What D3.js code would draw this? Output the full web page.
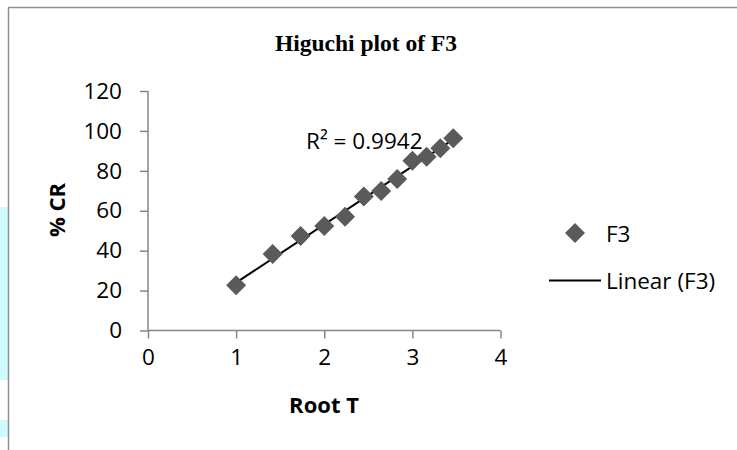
<!DOCTYPE html>
<html>
<head>
<meta charset="utf-8">
<script src="https://cdn.jsdelivr.net/npm/d3@7"></script>
<style>
  html, body { margin: 0; padding: 0; background: #fff; }
  svg { display: block; }
</style>
</head>
<body>
<svg id="chart" width="737" height="450"></svg>
<script>
// ---- data ----
const rootT = [1, 1.414, 1.732, 2, 2.236, 2.449, 2.646, 2.828, 3, 3.162, 3.317, 3.464];
const percentCR = [22.7, 38.3, 47.4, 52.4, 57.0, 67.1, 69.9, 75.9, 85.1, 87.1, 91.3, 96.3];
const xTicks = [0, 1, 2, 3, 4];
const yTicks = [0, 20, 40, 60, 80, 100, 120];
const seriesName = "F3";
const trendName = "Linear (F3)";
const rSquaredLabel = "R\u00B2 = 0.9942";
const titleText = "Higuchi plot of F3";
const xLabel = "Root T";
const yLabel = "% CR";

const svg = d3.select("#chart");

// decorative background (cyan page strip) and chart border
svg.append("rect").attr("x", 0).attr("y", 207).attr("width", 8).attr("height", 173).attr("fill", "#cefcfc");
svg.append("rect").attr("x", 0).attr("y", 420).attr("width", 8).attr("height", 17).attr("fill", "#cefcfc");
svg.append("line").attr("x1", 8.5).attr("x2", 8.5).attr("y1", 7.5).attr("y2", 450)
  .attr("stroke", "#8e8e8e").attr("stroke-width", 1.5);
svg.append("line").attr("x1", 8).attr("x2", 737).attr("y1", 7.5).attr("y2", 7.5)
  .attr("stroke", "#8e8e8e").attr("stroke-width", 1.5);

const x = d3.scaleLinear().domain([0, 4]).range([148, 500.5]);
const y = d3.scaleLinear().domain([0, 120]).range([330.5, 91]);

const axisColor = "#868686";
const font = "'Open Sans', 'Noto Sans', sans-serif";

// x axis
const gx = svg.append("g").attr("transform", `translate(0,${y(0)})`)
  .call(d3.axisBottom(x).tickValues(xTicks).tickSize(8).tickPadding(11).tickFormat(d3.format("d")));
// y axis
const gy = svg.append("g").attr("transform", `translate(${x(0)},0)`)
  .call(d3.axisLeft(y).tickValues(yTicks).tickSize(8).tickPadding(18).tickFormat(d3.format("d")));

[gx, gy].forEach(g => {
  g.select(".domain").attr("stroke", axisColor).attr("stroke-width", 1.5);
  g.selectAll(".tick line").attr("stroke", axisColor).attr("stroke-width", 1.5);
  g.selectAll(".tick text").attr("fill", "#000").style("font-family", font).style("font-size", "22.5px");
});
gx.select(".domain").attr("d", `M${x(0)},0H${x(4)}`);
gy.select(".domain").attr("d", `M0,${y(0)}V${y(120)}`);

// trendline (least squares)
const n = rootT.length;
const mx = d3.mean(rootT), my = d3.mean(percentCR);
let sxy = 0, sxx = 0;
for (let i = 0; i < n; i++) { sxy += (rootT[i] - mx) * (percentCR[i] - my); sxx += (rootT[i] - mx) ** 2; }
const slope = sxy / sxx, intercept = my - slope * mx;
const xr = d3.extent(rootT);
svg.append("line")
  .attr("x1", x(xr[0])).attr("y1", y(intercept + slope * xr[0]))
  .attr("x2", x(xr[1])).attr("y2", y(intercept + slope * xr[1]))
  .attr("stroke", "#000").attr("stroke-width", 2);

// markers
const diamond = "M0,-10L10,0L0,10L-10,0Z";
svg.append("g").selectAll("path").data(rootT).join("path")
  .attr("d", diamond)
  .attr("transform", (d, i) => `translate(${x(d)},${y(percentCR[i])})`)
  .attr("fill", "#5a5a5a");

// R² label
svg.append("text").attr("x", 306).attr("y", 149).text(rSquaredLabel)
  .style("font-family", font).style("font-size", "22.5px").attr("fill", "#000");

// title
svg.append("text").attr("x", 366).attr("y", 51).attr("text-anchor", "middle").text(titleText)
  .style("font-family", "'Liberation Serif', 'Times New Roman', serif").style("font-weight", "bold").style("font-size", "23.5px");

// axis titles
svg.append("text").attr("x", 324).attr("y", 413).attr("text-anchor", "middle").text(xLabel)
  .style("font-family", font).style("font-weight", "bold").style("font-size", "22px");
svg.append("text").attr("transform", "translate(65,210) rotate(-90)").attr("text-anchor", "middle").text(yLabel)
  .style("font-family", font).style("font-weight", "bold").style("font-size", "22px");

// legend
const lg = svg.append("g");
lg.append("path").attr("d", diamond).attr("transform", "translate(575,233)").attr("fill", "#5a5a5a");
lg.append("text").attr("x", 606).attr("y", 242).text(seriesName)
  .style("font-family", font).style("font-size", "22.5px");
lg.append("line").attr("x1", 549).attr("x2", 601).attr("y1", 280.5).attr("y2", 280.5)
  .attr("stroke", "#000").attr("stroke-width", 2);
lg.append("text").attr("x", 606).attr("y", 289).text(trendName)
  .style("font-family", font).style("font-size", "22.5px");
</script>
</body>
</html>
